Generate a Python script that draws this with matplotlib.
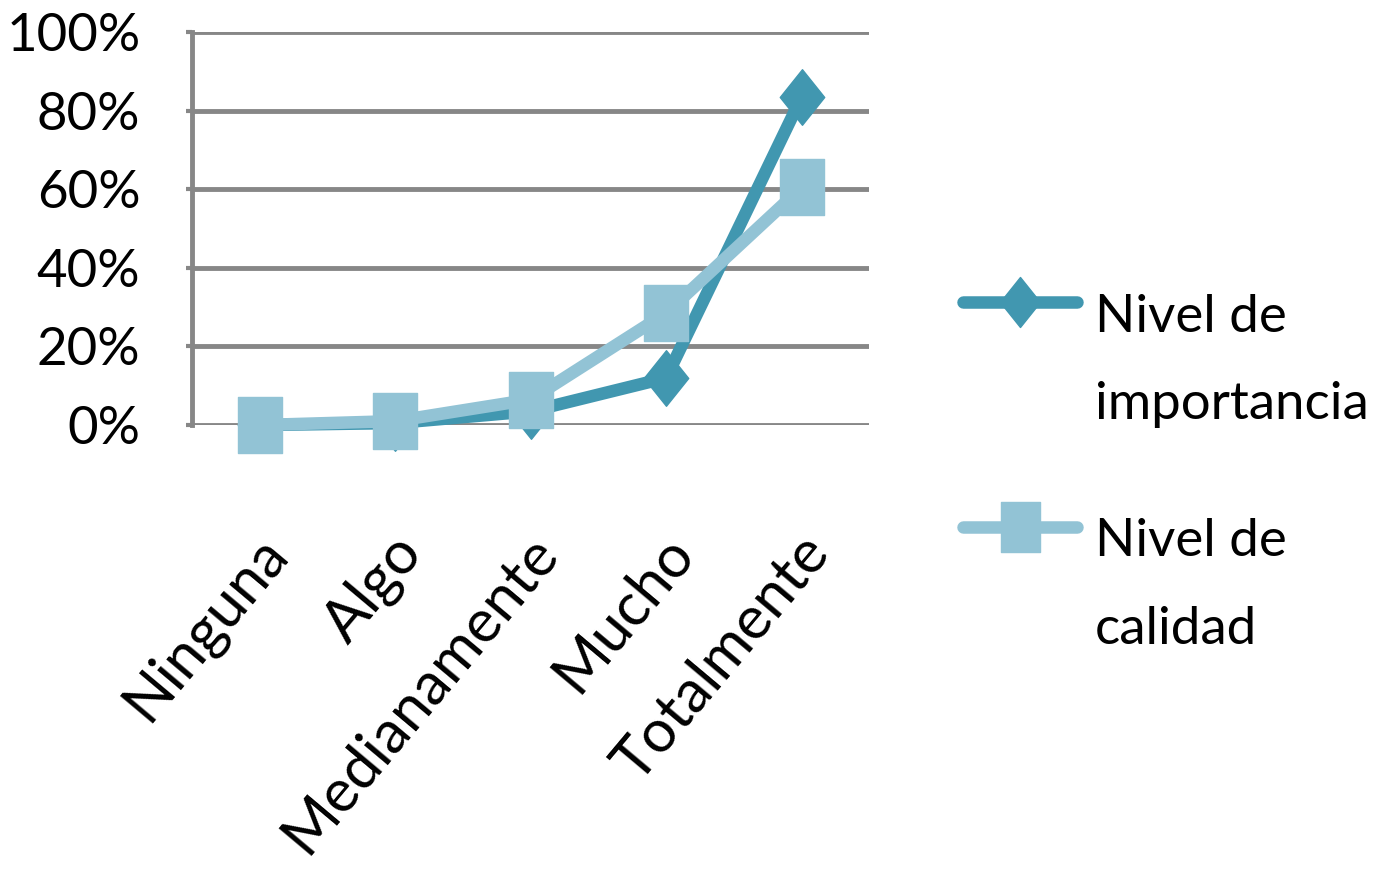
import matplotlib
matplotlib.use("Agg")
import matplotlib.pyplot as plt
import matplotlib.transforms as mtransforms
import numpy as np
from matplotlib.path import Path
from matplotlib.lines import Line2D
from matplotlib.legend_handler import HandlerLine2D

categorias = ["Ninguna", "Algo", "Medianamente", "Mucho", "Totalmente"]
importancia = [0, 0.5, 3.5, 12, 83.5]
calidad = [0, 1, 6.5, 28.5, 60.5]
etiquetas = ["Nivel de\nimportancia", "Nivel de\ncalidad"]

plt.rcParams['font.family'] = ['Lato', 'DejaVu Sans']

oscuro = "#4197B0"
claro = "#92C3D5"
gris = "#878787"

# marcadores estirados en vertical, como en el original
cuadro = Path([(-0.78, -1), (0.78, -1), (0.78, 1), (-0.78, 1), (-0.78, -1)], closed=True)
rombo = Path([(0, -1), (0.8, 0), (0, 1), (-0.8, 0), (0, -1)], closed=True)


class HandlerArriba(HandlerLine2D):
    # sube la muestra de la leyenda a la primera linea del texto
    def create_artists(self, legend, orig_handle, xdescent, ydescent,
                       width, height, fontsize, trans):
        trans = mtransforms.Affine2D().translate(0, 43) + trans
        return super().create_artists(legend, orig_handle, xdescent, ydescent,
                                      width, height, fontsize, trans)


fig = plt.figure(figsize=(13.8, 8.71), dpi=100)
ax = fig.add_axes([0.139, 0.512, 0.491, 0.451])

x = np.arange(len(categorias))
ax.plot(x, importancia, color=oscuro, lw=9, marker=rombo, ms=40,
        solid_capstyle='round', label=etiquetas[0], zorder=3, clip_on=False)
ax.plot(x, calidad, color=claro, lw=9, marker=cuadro, ms=40,
        solid_capstyle='round', label=etiquetas[1], zorder=4, clip_on=False)

ax.set_xlim(-0.5, len(categorias) - 0.5)
ax.set_ylim(0, 100)
ax.set_yticks(range(0, 101, 20))
ax.set_yticklabels([f"{v}%" for v in range(0, 101, 20)], fontsize=38)
ax.set_xticks(x)
ax.set_xticklabels(categorias, fontsize=43, rotation=50, ha='right', va='center',
                   rotation_mode='anchor')
ax.tick_params(axis='x', length=0, pad=85)
ax.tick_params(axis='y', length=4, width=3, color=gris, pad=33)
desplaza = mtransforms.ScaledTranslation(0.17, 0, fig.dpi_scale_trans)
for lab in ax.get_xticklabels():
    lab.set_transform(lab.get_transform() + desplaza)

ax.grid(axis='y', color=gris, lw=3.5, zorder=0)
ax.set_axisbelow(True)
for s in ['top', 'right', 'bottom']:
    ax.spines[s].set_visible(False)
ax.spines['left'].set_color(gris)
ax.spines['left'].set_linewidth(3.5)

leg = ax.legend(loc='upper left', bbox_to_anchor=(0.698, 0.663),
                bbox_transform=fig.transFigure, frameon=False,
                fontsize=38, handlelength=2.16, handletextpad=0.34,
                labelspacing=1.71, markerscale=0.9, borderpad=0, borderaxespad=0,
                handler_map={Line2D: HandlerArriba()})
for t in leg.get_texts():
    t.set_linespacing(2.07)

fig.savefig("out.png", dpi=100)
